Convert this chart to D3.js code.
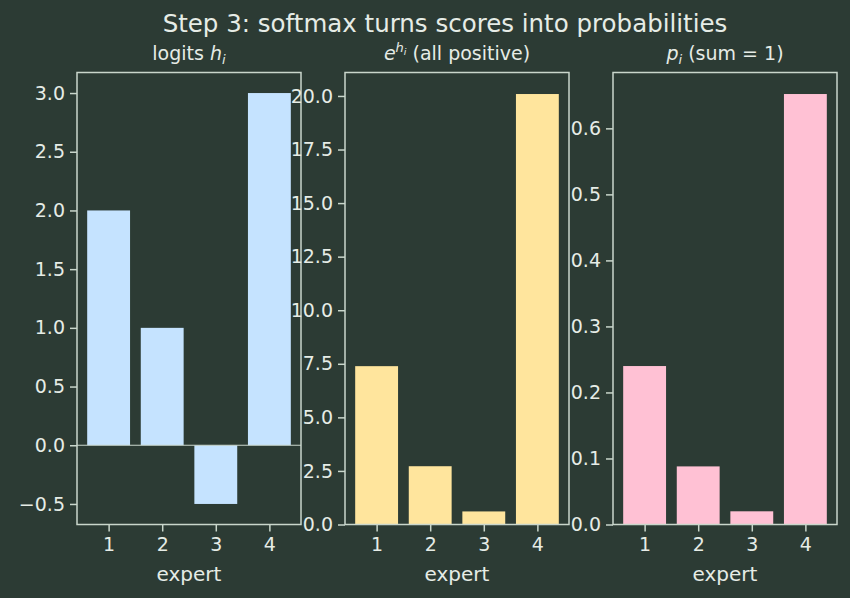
<!DOCTYPE html>
<html>
<head>
<meta charset="utf-8">
<script src="https://cdn.jsdelivr.net/npm/d3@7"></script>
<style>
  body { margin: 0; background: #2c3b34; }
  text { font-family: "DejaVu Sans", sans-serif; fill: #e6ece6; }
</style>
</head>
<body>
<div id="chart"></div>
<script>
// data
var experts = [1, 2, 3, 4];
var logits = [2.0, 1.0, -0.5, 3.0];
var expVals = [7.39, 2.72, 0.61, 20.09];
var probs = [0.240, 0.088, 0.020, 0.652];

var ticks1 = [-0.5, 0, 0.5, 1, 1.5, 2, 2.5, 3];
var ticks2 = [0, 2.5, 5, 7.5, 10, 12.5, 15, 17.5, 20];
var ticks3 = [0, 0.1, 0.2, 0.3, 0.4, 0.5, 0.6];

var w = 850, h = 598;
var bg = "#2c3b34", fg = "#e6ece6", spine = "#c9d6cb";

var svg = d3.select("#chart").append("svg")
  .attr("width", w).attr("height", h);

svg.append("rect").attr("width", w).attr("height", h).attr("fill", bg);

svg.append("text")
  .attr("x", 445).attr("y", 32)
  .attr("text-anchor", "middle")
  .attr("font-size", "24.5px")
  .text("Step 3: softmax turns scores into probabilities");

var axTop = 72.5, axBottom = 524.5, pw = 224;
var lefts = [77, 345, 613];

var panels = [
  {vals: logits, color: "#c5e3ff", ticks: ticks1},
  {vals: expVals, color: "#ffe59d", ticks: ticks2},
  {vals: probs, color: "#ffc1d4", ticks: ticks3}
];

panels.forEach(function(p, k) {
  var g = svg.append("g").attr("transform", "translate(" + lefts[k] + ",0)");

  var lo = Math.min(0, d3.min(p.vals)), hi = Math.max(0, d3.max(p.vals));
  var pad = (hi - lo) * 0.05;
  var y = d3.scaleLinear()
    .domain([lo < 0 ? lo - pad : 0, hi + pad])
    .range([axBottom, axTop]);
  var x = d3.scaleLinear().domain([0.41, 4.59]).range([0, pw]);

  g.selectAll(".bar")
    .data(p.vals)
    .enter()
    .append("rect")
    .attr("class", "bar")
    .attr("x", function(d, i) { return x(experts[i] - 0.4); })
    .attr("width", x(1.4) - x(0.6))
    .attr("y", function(d) { return y(Math.max(0, d)); })
    .attr("height", function(d) { return Math.abs(y(d) - y(0)); })
    .attr("fill", p.color);

  if (k == 0) {
    g.append("line")
      .attr("x1", 0).attr("x2", pw)
      .attr("y1", y(0)).attr("y2", y(0))
      .attr("stroke", spine).attr("stroke-width", 1.2);
  }

  var yAxis = d3.axisLeft(y).tickValues(p.ticks)
    .tickFormat(d3.format(".1f")).tickSize(7).tickPadding(5);
  var xAxis = d3.axisBottom(x).tickValues(experts)
    .tickFormat(d3.format("d")).tickSize(7).tickPadding(6);

  var ya = g.append("g").call(yAxis);
  var xa = g.append("g").attr("transform", "translate(0," + axBottom + ")").call(xAxis);
  [ya, xa].forEach(function(a) {
    a.select(".domain").remove();
    a.selectAll("line").attr("stroke", spine).attr("stroke-width", 1.5);
    a.selectAll("text").attr("font-size", "19px").attr("fill", fg)
      .style("font-family", "DejaVu Sans");
  });

  g.append("rect")
    .attr("x", 0).attr("y", axTop).attr("width", pw).attr("height", axBottom - axTop)
    .attr("fill", "none").attr("stroke", spine).attr("stroke-width", 1.5);

  g.append("text")
    .attr("x", pw / 2).attr("y", 581)
    .attr("text-anchor", "middle")
    .attr("font-size", "20px")
    .text("expert");

  var t = g.append("text")
    .attr("x", pw / 2).attr("y", 60)
    .attr("text-anchor", "middle")
    .attr("font-size", "19px");
  if (k == 0) {
    t.append("tspan").text("logits ");
    t.append("tspan").attr("font-style", "italic").text("h");
    t.append("tspan").attr("font-style", "italic").attr("font-size", "13px").attr("dy", 4).text("i");
  } else if (k == 1) {
    t.append("tspan").attr("font-style", "italic").text("e");
    t.append("tspan").attr("font-style", "italic").attr("font-size", "13px").attr("dy", -8).text("h");
    t.append("tspan").attr("font-style", "italic").attr("font-size", "9.5px").attr("dy", 3).text("i");
    t.append("tspan").attr("dy", 5).text(" (all positive)");
  } else {
    t.append("tspan").attr("font-style", "italic").text("p");
    t.append("tspan").attr("font-style", "italic").attr("font-size", "13px").attr("dy", 4).text("i");
    t.append("tspan").attr("dy", -4).text(" (sum = 1)");
  }
});
</script>
</body>
</html>
